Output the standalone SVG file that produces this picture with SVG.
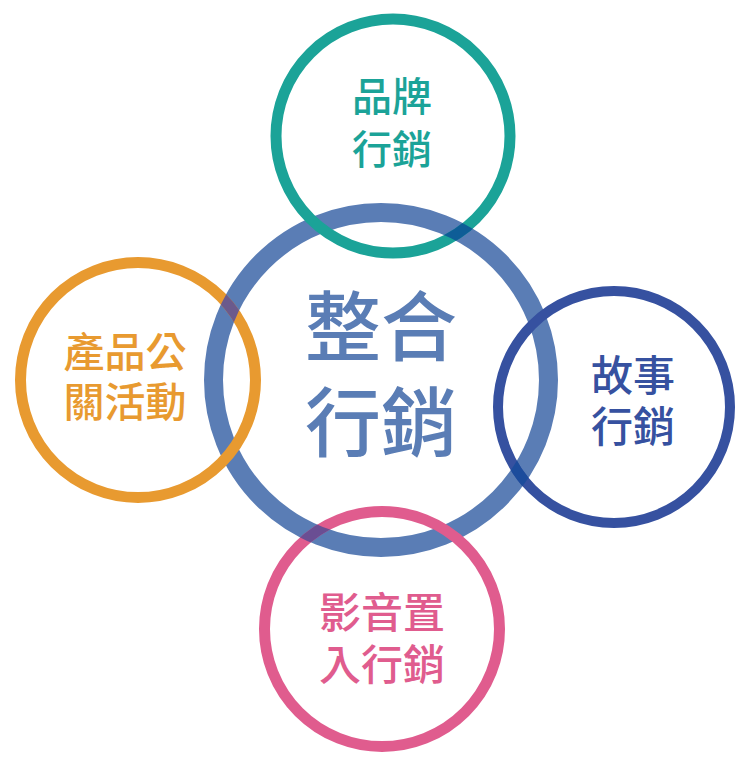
<svg xmlns="http://www.w3.org/2000/svg" width="749" height="766" viewBox="0 0 749 766">
<style>
.ring{fill:none}
.t{font-family:"Noto Sans CJK TC","Noto Sans CJK SC",sans-serif;text-anchor:middle;font-weight:500}
</style>
<defs>
<mask id="cm" maskUnits="userSpaceOnUse" x="0" y="0" width="749" height="766">
<circle cx="381" cy="380" r="167.5" fill="none" stroke="#fff" stroke-width="19"/>
</mask>
<clipPath id="c1"><rect x="420" y="195" width="80" height="70"/></clipPath>
<clipPath id="c2"><rect x="195" y="270" width="70" height="70"/></clipPath>
<clipPath id="c3"><rect x="280" y="500" width="70" height="70"/></clipPath>
<clipPath id="c4"><rect x="490" y="440" width="70" height="70"/></clipPath>
</defs>
<g id="center">
<circle class="ring" cx="381" cy="380" r="167.5" stroke="#5a7db5" stroke-width="19"/>
<text class="t" font-size="76" fill="#5a7db5"><tspan x="381" y="355">整合</tspan><tspan x="381" y="451">行銷</tspan></text>
</g>
<g id="brand">
<circle class="ring" cx="393" cy="136" r="117" stroke="#1ba398" stroke-width="11"/>
<circle class="ring" cx="393" cy="136" r="117" stroke="#0e5d97" stroke-width="11" mask="url(#cm)" clip-path="url(#c1)"/>
<text class="t" font-size="40" fill="#1ba398"><tspan x="392" y="111">品牌</tspan><tspan x="392" y="164">行銷</tspan></text>
</g>
<g id="pr">
<circle class="ring" cx="138" cy="380" r="117.5" stroke="#e89a30" stroke-width="11"/>
<circle class="ring" cx="138" cy="380" r="117.5" stroke="#6b5a8c" stroke-width="11" mask="url(#cm)" clip-path="url(#c2)"/>
<text class="t" font-size="41" fill="#e89a30"><tspan x="125" y="367">產品公</tspan><tspan x="125" y="417">關活動</tspan></text>
</g>
<g id="video">
<circle class="ring" cx="382" cy="629" r="117.5" stroke="#e05c8e" stroke-width="11"/>
<circle class="ring" cx="382" cy="629" r="117.5" stroke="#6a4e93" stroke-width="11" mask="url(#cm)" clip-path="url(#c3)"/>
<text class="t" font-size="42" fill="#e05c8e"><tspan x="382" y="628">影音置</tspan><tspan x="382" y="680">入行銷</tspan></text>
</g>
<g id="story">
<circle class="ring" cx="614" cy="407" r="116" stroke="#3651a0" stroke-width="10"/>
<circle class="ring" cx="614" cy="407" r="116" stroke="#1c4c9c" stroke-width="10" mask="url(#cm)" clip-path="url(#c4)"/>
<text class="t" font-size="42" fill="#3651a0"><tspan x="633" y="391">故事</tspan><tspan x="633" y="442">行銷</tspan></text>
</g>
<g id="connectors"/>
</svg>
